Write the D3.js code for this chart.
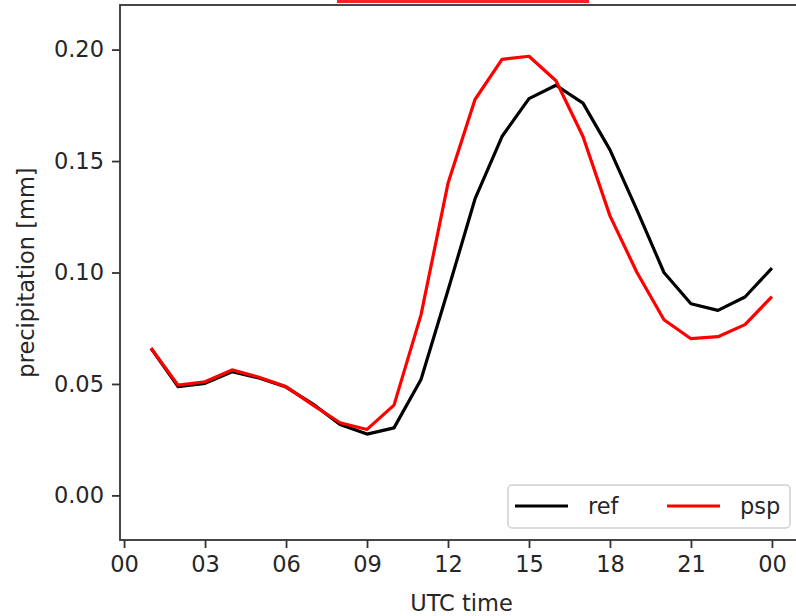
<!DOCTYPE html>
<html lang="en">
<head>
    <meta charset="UTF-8">
    <title>Diurnal precipitation</title>
    <style>
        body { margin: 0; background: #fff; }
        svg text { font-family: "DejaVu Sans", sans-serif; fill: #262626; }
        .line { fill: none; stroke-width: 3.2px; stroke-linejoin: round; }
    </style>
    <script src="https://d3js.org/d3.v7.min.js"></script>
</head>
<body>
    <script>
        // hours (UTC) and mean precipitation per hour
        const hours = d3.range(1, 25);
        const refValues = [0.066, 0.0488, 0.0503, 0.0555, 0.0527, 0.0486, 0.041, 0.0318, 0.0275, 0.0303,
                           0.052, 0.092, 0.133, 0.161, 0.178, 0.184, 0.176, 0.155, 0.128, 0.100,
                           0.086, 0.083, 0.089, 0.102];
        const pspValues = [0.066, 0.0495, 0.051, 0.0563, 0.053, 0.0488, 0.0405, 0.0326, 0.0296, 0.0405,
                           0.081, 0.140, 0.1776, 0.1956, 0.197, 0.186, 0.161, 0.1254, 0.100, 0.0788,
                           0.0703, 0.0712, 0.0766, 0.0892];
        const xTicks = [0, 3, 6, 9, 12, 15, 18, 21, 24];
        const yTicks = [0, 0.05, 0.10, 0.15, 0.20];
        const seriesNames = ["ref", "psp"];
        const seriesColors = ["#000000", "#ff0000"];

        const width = 796, height = 616;
        const margin = {left: 120, top: 5, right: -7, bottom: 76};

        const svg = d3.select("body").append("svg")
            .attr("width", width)
            .attr("height", height);

        // partially visible red title bar at the very top
        svg.append("rect")
            .attr("x", 337).attr("y", 0)
            .attr("width", 252).attr("height", 3)
            .attr("fill", "#ff2020");

        const x = d3.scaleLinear()
            .domain([-0.15, 25.15])
            .range([margin.left, width - margin.right]);
        const y = d3.scaleLinear()
            .domain([-0.02, 0.22])
            .range([height - margin.bottom, margin.top]);

        const series = [
            {name: seriesNames[0], color: seriesColors[0], values: refValues},
            {name: seriesNames[1], color: seriesColors[1], values: pspValues}
        ];

        const line = d3.line()
            .x((d, i) => x(hours[i]))
            .y(d => y(d));

        svg.selectAll(".line")
            .data(series)
            .enter().append("path")
            .attr("class", "line")
            .attr("stroke", d => d.color)
            .attr("d", d => line(d.values));

        // axes
        const fmtHour = h => String(h % 24).padStart(2, "0");
        const xAxis = svg.append("g")
            .attr("transform", `translate(0,${height - margin.bottom})`)
            .call(d3.axisBottom(x).tickValues(xTicks).tickFormat(fmtHour)
                .tickSizeInner(8).tickSizeOuter(0).tickPadding(8));
        const yAxis = svg.append("g")
            .attr("transform", `translate(${margin.left},0)`)
            .call(d3.axisLeft(y).tickValues(yTicks).tickFormat(d3.format(".2f"))
                .tickSizeInner(8).tickSizeOuter(0).tickPadding(8));

        [xAxis, yAxis].forEach(ax => {
            ax.select(".domain").remove();
            ax.selectAll(".tick line").attr("stroke", "#333").attr("stroke-width", 1.8);
            ax.selectAll(".tick text")
                .attr("font-size", "22.5px")
                .attr("font-family", "DejaVu Sans")
                .attr("fill", "#262626");
        });

        // spines
        const x0 = margin.left, x1 = width - margin.right;
        const y0 = margin.top, y1 = height - margin.bottom;
        svg.append("rect")
            .attr("x", x0).attr("y", y0)
            .attr("width", x1 - x0).attr("height", y1 - y0)
            .attr("fill", "none")
            .attr("stroke", "#333")
            .attr("stroke-width", 1.8);

        // axis labels
        svg.append("text")
            .attr("x", (x0 + x1) / 2)
            .attr("y", 611)
            .attr("text-anchor", "middle")
            .attr("font-size", "22.5px")
            .text("UTC time");

        svg.append("text")
            .attr("transform", `translate(34,${(y0 + y1) / 2}) rotate(-90)`)
            .attr("text-anchor", "middle")
            .attr("font-size", "22.5px")
            .text("precipitation [mm]");

        // legend
        const legend = svg.append("g");
        legend.append("rect")
            .attr("x", 508).attr("y", 485)
            .attr("width", 282).attr("height", 43)
            .attr("rx", 4)
            .attr("fill", "#fff").attr("fill-opacity", 0.8)
            .attr("stroke", "#d0d0d0").attr("stroke-width", 1.5);

        const item = legend.selectAll(".item")
            .data(series)
            .enter().append("g")
            .attr("transform", (d, i) => `translate(${515 + i * 152},506)`);
        item.append("line")
            .attr("x1", 0).attr("x2", 53)
            .attr("stroke", d => d.color)
            .attr("stroke-width", 3.2);
        item.append("text")
            .attr("x", 73)
            .attr("dy", "0.35em")
            .attr("font-size", "22.5px")
            .text(d => d.name);
    </script>
</body>
</html>
